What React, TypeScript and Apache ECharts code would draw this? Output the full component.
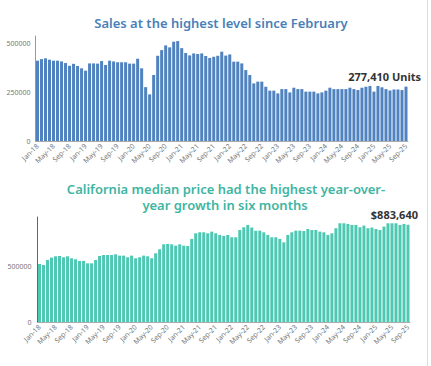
import React, { useEffect, useRef } from 'react';
import * as echarts from 'echarts';

const MONTHS = ['Jan', 'Feb', 'Mar', 'Apr', 'May', 'Jun', 'Jul', 'Aug', 'Sep', 'Oct', 'Nov', 'Dec'];
const YEARS = ['18', '19', '20', '21', '22', '23', '24', '25'];
const N_MONTHS = 93; // Jan-18 .. Sep-25

const categories: string[] = [];
YEARS.forEach((y) => MONTHS.forEach((m) => categories.push(`${m}-${y}`)));
const cats = categories.slice(0, N_MONTHS);

const salesTitle = 'Sales at the highest level since February';
const priceTitleLines = ['California median price had the highest year-over-', 'year growth in six months'];

const sales = [
  410000, 418000, 422000, 415000, 410000, 410000, 406000, 398000, 384000, 394000, 383000, 371000,
  359000, 396000, 396000, 395000, 408000, 388000, 410000, 406000, 402000, 402000, 402000, 395000,
  395000, 420000, 371000, 275000, 238000, 337000, 435000, 464000, 488000, 478000, 507000, 510000,
  474000, 449000, 437000, 447000, 444000, 447000, 434000, 424000, 430000, 435000, 456000, 436000,
  442000, 405000, 405000, 396000, 362000, 337000, 294000, 303000, 303000, 277000, 257000, 257000,
  243000, 265000, 265000, 248000, 272000, 265000, 265000, 252000, 252000, 252000, 243000, 248000,
  257000, 272000, 265000, 265000, 265000, 265000, 272000, 265000, 260000, 272000, 277000, 281000,
  252000, 281000, 274000, 265000, 258000, 263000, 263000, 260000, 277410,
];

const prices = [
  527000, 518000, 564000, 585000, 597000, 600000, 588000, 597000, 579000, 570000, 555000, 555000,
  533000, 533000, 564000, 600000, 609000, 609000, 609000, 615000, 603000, 603000, 588000, 603000,
  579000, 588000, 603000, 597000, 579000, 624000, 661000, 706000, 709000, 706000, 694000, 706000,
  694000, 691000, 755000, 806000, 815000, 815000, 806000, 821000, 806000, 791000, 782000, 791000,
  770000, 770000, 836000, 861000, 882000, 858000, 830000, 830000, 815000, 791000, 770000, 770000,
  755000, 724000, 791000, 815000, 830000, 830000, 827000, 845000, 836000, 836000, 821000, 815000,
  791000, 806000, 852000, 897000, 897000, 891000, 882000, 882000, 861000, 876000, 852000, 858000,
  845000, 836000, 867000, 897000, 897000, 897000, 882000, 891000, 883640,
];

const SALES_COLOR = '#4f82bf';
const PRICE_COLOR = '#4ec8b2';
const FONT = 'Noto Sans';

function withLastLabel(values: number[], fmt: (v: number) => string, offsetX: number) {
  return values.map((v, i) =>
    i === values.length - 1
      ? {
          value: v,
          label: {
            show: true,
            position: 'top',
            align: 'right',
            offset: [offsetX, 0],
            distance: 5,
            formatter: () => fmt(v),
            fontFamily: FONT,
            fontSize: 11,
            fontWeight: 'bold',
            color: '#333',
          },
        }
      : v
  );
}

export default function App() {
  const ref = useRef<HTMLDivElement>(null);
  useEffect(() => {
    if (!ref.current) return;
    const chart = echarts.init(ref.current, null, { renderer: 'svg' });
    const axisLabelCommon = { fontFamily: FONT, fontSize: 7, color: '#777' };
    const xAxisCommon = {
      type: 'category',
      data: cats,
      axisTick: { show: false },
      axisLine: { show: true, lineStyle: { color: '#aaa', width: 1 } },
      axisLabel: { ...axisLabelCommon, interval: 3, rotate: 45, margin: 4 },
    };
    const titleStyle = (fill: string) => ({
      textAlign: 'center',
      textVerticalAlign: 'middle',
      fill,
      font: `600 13px "${FONT}"`,
      lineHeight: 13,
    });
    chart.setOption({
      animation: false,
      backgroundColor: '#fff',
      graphic: [
        { type: 'text', x: 221, y: 23, style: { text: salesTitle, ...titleStyle('#4a7fb8') } },
        { type: 'text', x: 226, y: 188.5, style: { text: priceTitleLines[0], ...titleStyle('#3fb5a2') } },
        { type: 'text', x: 225, y: 205, style: { text: priceTitleLines[1], ...titleStyle('#3fb5a2') } },
        {
          type: 'line',
          shape: { x1: 427.5, y1: 0, x2: 427.5, y2: 366 },
          style: { stroke: '#ddd', lineWidth: 1 },
        },
      ],
      grid: [
        { left: 35.5, top: 36, width: 372.5, height: 105 },
        { left: 37.5, top: 217, width: 372.5, height: 105 },
      ],
      xAxis: [
        { ...xAxisCommon, gridIndex: 0 },
        { ...xAxisCommon, gridIndex: 1 },
      ],
      yAxis: [
        {
          type: 'value',
          gridIndex: 0,
          min: 0,
          max: 536000,
          interval: 250000,
          splitLine: { show: false },
          axisTick: { show: false },
          axisLine: { show: true, lineStyle: { color: '#999' } },
          axisLabel: {
            ...axisLabelCommon,
            margin: 5,
            formatter: (v: number) => (v % 250000 === 0 ? String(v) : ''),
          },
        },
        {
          type: 'value',
          gridIndex: 1,
          min: 0,
          max: 954000,
          interval: 500000,
          splitLine: { show: false },
          axisTick: { show: false },
          axisLine: { show: true, lineStyle: { color: '#666' } },
          axisLabel: {
            ...axisLabelCommon,
            margin: 6,
            formatter: (v: number) => (v % 500000 === 0 ? String(v) : ''),
          },
        },
      ],
      series: [
        {
          type: 'bar',
          xAxisIndex: 0,
          yAxisIndex: 0,
          barCategoryGap: '25%',
          itemStyle: { color: SALES_COLOR },
          data: withLastLabel(sales, (v) => `${v.toLocaleString('en-US')} Units`, 15),
        },
        {
          type: 'bar',
          xAxisIndex: 1,
          yAxisIndex: 1,
          barCategoryGap: '25%',
          itemStyle: { color: PRICE_COLOR },
          data: withLastLabel(prices, (v) => `$${v.toLocaleString('en-US')}`, 10),
        },
      ],
    });
    return () => chart.dispose();
  }, []);
  return (
    <div
      ref={ref}
      style={{ position: 'fixed', left: 0, top: 0, width: 431, height: 366, background: '#fff' }}
    />
  );
}
